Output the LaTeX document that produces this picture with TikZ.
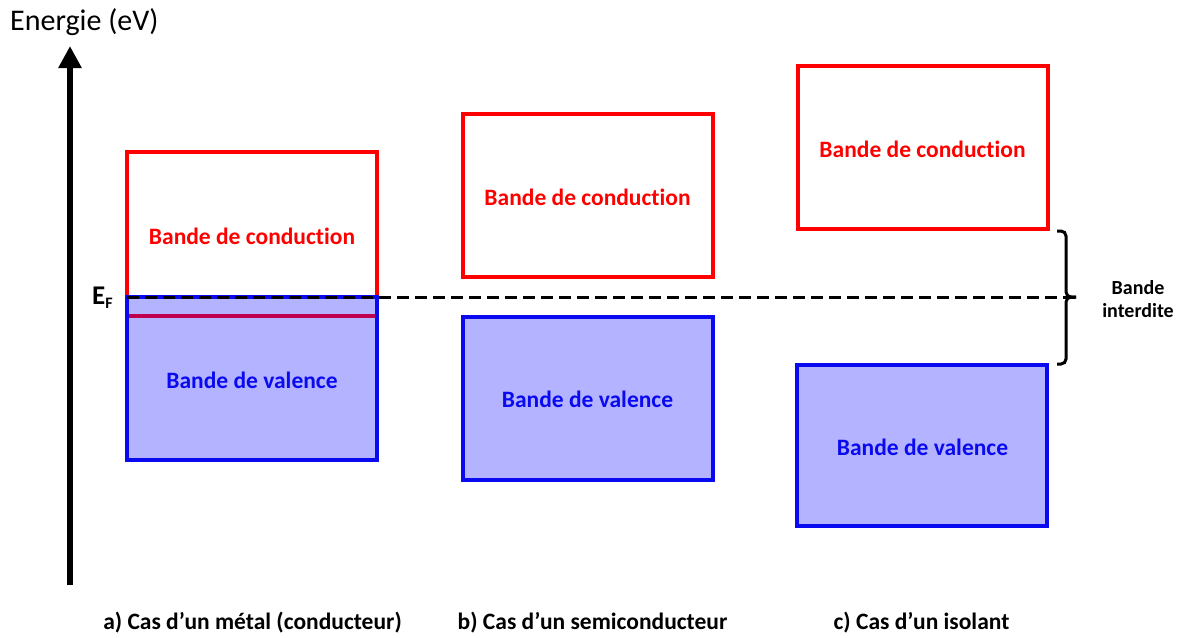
\documentclass[tikz,border=0pt]{standalone}
\usepackage{fontspec}
\setmainfont{Carlito}[Ligatures=NoCommon]
\usetikzlibrary{arrows.meta}
\definecolor{cred}{HTML}{FF0000}
\definecolor{cblue}{HTML}{0A0AF0}
\definecolor{vfill}{HTML}{B3B3FF}
\definecolor{fermi}{HTML}{C0004F}
\tikzset{
  cband/.style={draw=cred, line width=4pt, fill=white, minimum width=250pt, inner sep=0pt},
  vband/.style={draw=cblue, line width=4pt, fill=vfill, minimum width=250pt, inner sep=0pt},
  ctext/.style={text=cred, font=\fontsize{23.5}{28}\selectfont\bfseries},
  vtext/.style={text=cblue, font=\fontsize{23.5}{28}\selectfont\bfseries},
  caption/.style={font=\fontsize{23.5}{28}\selectfont\bfseries},
}
\begin{document}
\begin{tikzpicture}[x=1pt,y=-1pt]
\useasboundingbox (0,0) rectangle (1180,637);
% axis
\coordinate (axb) at (70,585);
\coordinate (axt) at (70,46);
\draw[line width=6pt, -{Triangle[width=22pt,length=22pt]}] (axb) -- (axt);
\node[font=\fontsize{30}{34}\selectfont, anchor=west, inner sep=0pt] (energie) at (10,22) {Energie (eV)};
% metal
\node[cband, minimum height=145pt] (mc) at (252,224.5) {};
\node[vband, minimum height=163pt] (mv) at (252,378.5) {};
\coordinate (fl1) at (129,316);
\coordinate (fl2) at (375,316);
\draw[fermi, line width=4pt] (fl1) -- (fl2);
% semiconductor
\node[cband, minimum height=163pt] (sc) at (587.5,195.5) {};
\node[vband, minimum height=163pt] (sv) at (587.5,398.5) {};
% insulator
\node[cband, minimum height=163pt] (ic) at (922.5,147.5) {};
\node[vband, minimum height=161pt] (iv) at (922,445.5) {};
% Fermi level
\coordinate (ef1) at (127,297);
\coordinate (ef2) at (1075,297);
\draw[line width=3pt, dash pattern=on 12pt off 6pt] (ef1) -- (ef2);
\node[font=\fontsize{27}{30}\selectfont\bfseries, anchor=west, inner sep=0pt] (ef) at (92,298) {E\raisebox{-0.3ex}{\fontsize{16}{18}\selectfont F}};
% labels
\node[ctext] (mct) at (252,236) {Bande de conduction};
\node[vtext] (mvt) at (252,380) {Bande de valence};
\node[ctext] (sct) at (587.5,197) {Bande de conduction};
\node[vtext] (svt) at (587.5,399) {Bande de valence};
\node[ctext] (ict) at (922.5,149) {Bande de conduction};
\node[vtext] (ivt) at (922.5,447) {Bande de valence};
% gap brace
\coordinate (bt) at (1057,231);
\coordinate (bb) at (1057,364);
\coordinate (bm) at (1066,297);
\coordinate (btip) at (1076,297);
\draw[line width=3pt, rounded corners=5pt] (bt) -| (bm) -- (btip);
\draw[line width=3pt, rounded corners=5pt] (bb) -| (bm) -- (btip);
\node[font=\fontsize{20}{23}\selectfont\bfseries, align=center] (gap) at (1138,299) {Bande\\interdite};
% captions
\node[caption] (ca) at (252.5,623) {a) Cas d’un métal (conducteur)};
\node[caption] (cb) at (592.5,623) {b) Cas d’un semiconducteur};
\node[caption] (cc) at (921.5,623) {c) Cas d’un isolant};
\end{tikzpicture}
\end{document}
